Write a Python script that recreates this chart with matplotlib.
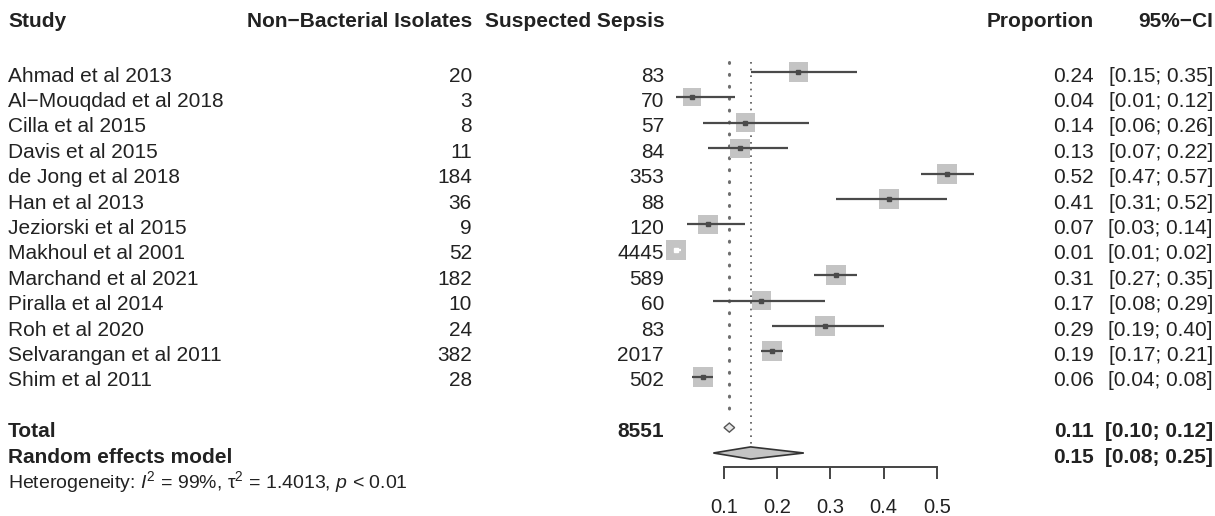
import numpy as np
import matplotlib
matplotlib.use("Agg")
import matplotlib.pyplot as plt
from matplotlib.patches import Polygon

plt.rcParams['font.family'] = ['Liberation Sans', 'DejaVu Sans']
plt.rcParams['mathtext.fontset'] = 'custom'
plt.rcParams['mathtext.rm'] = 'Liberation Sans'
plt.rcParams['mathtext.it'] = 'Liberation Sans:italic'
plt.rcParams['mathtext.bf'] = 'Liberation Sans:bold'

# ---------------- data ----------------
studies = ["Ahmad et al 2013", "Al\u2212Mouqdad et al 2018", "Cilla et al 2015",
           "Davis et al 2015", "de Jong et al 2018", "Han et al 2013",
           "Jeziorski et al 2015", "Makhoul et al 2001", "Marchand et al 2021",
           "Piralla et al 2014", "Roh et al 2020", "Selvarangan et al 2011",
           "Shim et al 2011"]
events = [20, 3, 8, 11, 184, 36, 9, 52, 182, 10, 24, 382, 28]
totals = [83, 70, 57, 84, 353, 88, 120, 4445, 589, 60, 83, 2017, 502]
prop = [0.24, 0.04, 0.14, 0.13, 0.52, 0.41, 0.07, 0.01, 0.31, 0.17, 0.29, 0.19, 0.06]
lower = [0.15, 0.01, 0.06, 0.07, 0.47, 0.31, 0.03, 0.01, 0.27, 0.08, 0.19, 0.17, 0.04]
upper = [0.35, 0.12, 0.26, 0.22, 0.57, 0.52, 0.14, 0.02, 0.35, 0.29, 0.40, 0.21, 0.08]

total_n = 8551
fixed_est, fixed_lo, fixed_hi = 0.11, 0.10, 0.12
rand_est, rand_lo, rand_hi = 0.15, 0.08, 0.25
tau2 = 1.4013
xticks = [0.1, 0.2, 0.3, 0.4, 0.5]
tick_labels = ["0.1", "0.2", "0.3", "0.4", "0.5"]

# ---------------- figure ----------------
W, H = 1215, 516
fig = plt.figure(figsize=(W / 100, H / 100), dpi=100)
ax = fig.add_axes([0, 0, 1, 1])

# pixel mapping: x=0 at px 670.8, 532 px per unit; row 0 at px 72, 25.4 px per row
x0_px, xscale = 670.8, 532.0
y0_px, yscale = 72.0, 25.4
ax.set_xlim(-x0_px / xscale, (W - x0_px) / xscale)
ax.set_ylim((H - y0_px) / yscale, -y0_px / yscale)

TXT = '#222222'
FS = 15
trans = ax.get_yaxis_transform()
base = 0.38  # baseline offset below row centre

def col(xpx, y, s, ha, bold=False, fs=FS):
    ax.text(xpx / W, y + base, s, transform=trans, ha=ha, va='baseline',
            fontsize=fs, color=TXT, fontweight='bold' if bold else 'normal')

# headers
hy = -2.14
col(8, hy, "Study", 'left', True)
col(472, hy, "Non\u2212Bacterial Isolates", 'right', True)
col(485, hy, "Suspected Sepsis", 'left', True)
col(1094, hy, "Proportion", 'right', True)
col(1213, hy, "95%\u2212CI", 'right', True)

n = len(studies)
rows = np.arange(n)
for i in range(n):
    col(8, rows[i], studies[i], 'left')
    col(472, rows[i], str(events[i]), 'right')
    col(664, rows[i], str(totals[i]), 'right')
    col(1094, rows[i], f"{prop[i]:.2f}", 'right')
    col(1213, rows[i], f"[{lower[i]:.2f}; {upper[i]:.2f}]", 'right')

y_tot, y_rand, y_het = 14, 15, 16
col(8, y_tot, "Total", 'left', True)
col(664, y_tot, str(total_n), 'right', True)
col(1094, y_tot, f"{fixed_est:.2f}", 'right', True)
col(1213, y_tot, f"[{fixed_lo:.2f}; {fixed_hi:.2f}]", 'right', True)
col(8, y_rand, "Random effects model", 'left', True)
col(1094, y_rand, f"{rand_est:.2f}", 'right', True)
col(1213, y_rand, f"[{rand_lo:.2f}; {rand_hi:.2f}]", 'right', True)
col(8, y_het, "Heterogeneity: $I^2$ = 99%, \u03c4$^2$ = 1.4013, $p$ < 0.01", 'left', fs=14)

# reference lines
ax.plot([fixed_est, fixed_est], [-0.39, 13.55], color='#6e6e6e', lw=2.2,
        linestyle=(0, (0.3, 3.6)), dash_capstyle='round', zorder=1)
ax.plot([rand_est, rand_est], [-0.39, y_rand - 0.24], color='#555555', lw=1.2,
        linestyle=(0, (1, 3)), zorder=1)

# boxes (size from random-effects weights)
ev = np.array(events, float)
nn = np.array(totals, float)
w = 1.0 / (1.0 / ev + 1.0 / (nn - ev) + tau2)
side_px = 20.0 * np.sqrt(w / w.max())
side_pt = side_px * 0.72
ax.scatter(prop, rows, s=side_pt ** 2, marker='s', color='#c4c4c4',
           edgecolor='none', zorder=2)
half_box = side_px / 2 / xscale
for i in range(n):
    inside = (prop[i] - lower[i] <= half_box[i]) and (upper[i] - prop[i] <= half_box[i])
    c = 'white' if inside else '#4a4a4a'
    ax.plot([lower[i], upper[i]], [rows[i], rows[i]], color=c, lw=1.6,
            solid_capstyle='butt', zorder=3)
    ax.plot([prop[i]], [rows[i]], marker='s', ms=2.2, color=c, zorder=4)

# diamonds
fd = Polygon([[fixed_lo, y_tot], [fixed_est, y_tot - 0.18], [fixed_hi, y_tot],
              [fixed_est, y_tot + 0.18]], closed=True, facecolor='#e6e6e6',
             edgecolor='#555555', lw=1.0, zorder=3)
rd = Polygon([[rand_lo, y_rand], [rand_est, y_rand - 0.24], [rand_hi, y_rand],
              [rand_est, y_rand + 0.24]], closed=True, facecolor='#c4c4c4',
             edgecolor='#333333', lw=1.2, zorder=3)
ax.add_patch(fd)
ax.add_patch(rd)

# x axis
for s in ['left', 'right', 'top']:
    ax.spines[s].set_visible(False)
ax.spines['bottom'].set_position(('data', (467 - y0_px) / yscale))
ax.spines['bottom'].set_bounds(xticks[0], xticks[-1])
ax.spines['bottom'].set_color('#444444')
ax.spines['bottom'].set_linewidth(1.4)
ax.set_xticks(xticks)
ax.set_xticklabels(tick_labels)
ax.tick_params(axis='x', direction='out', length=8.6, width=1.4, color='#444444',
               labelsize=14.5, labelcolor=TXT, pad=14)
ax.set_yticks([])
ax.patch.set_visible(False)

fig.savefig("out.png", dpi=100)
